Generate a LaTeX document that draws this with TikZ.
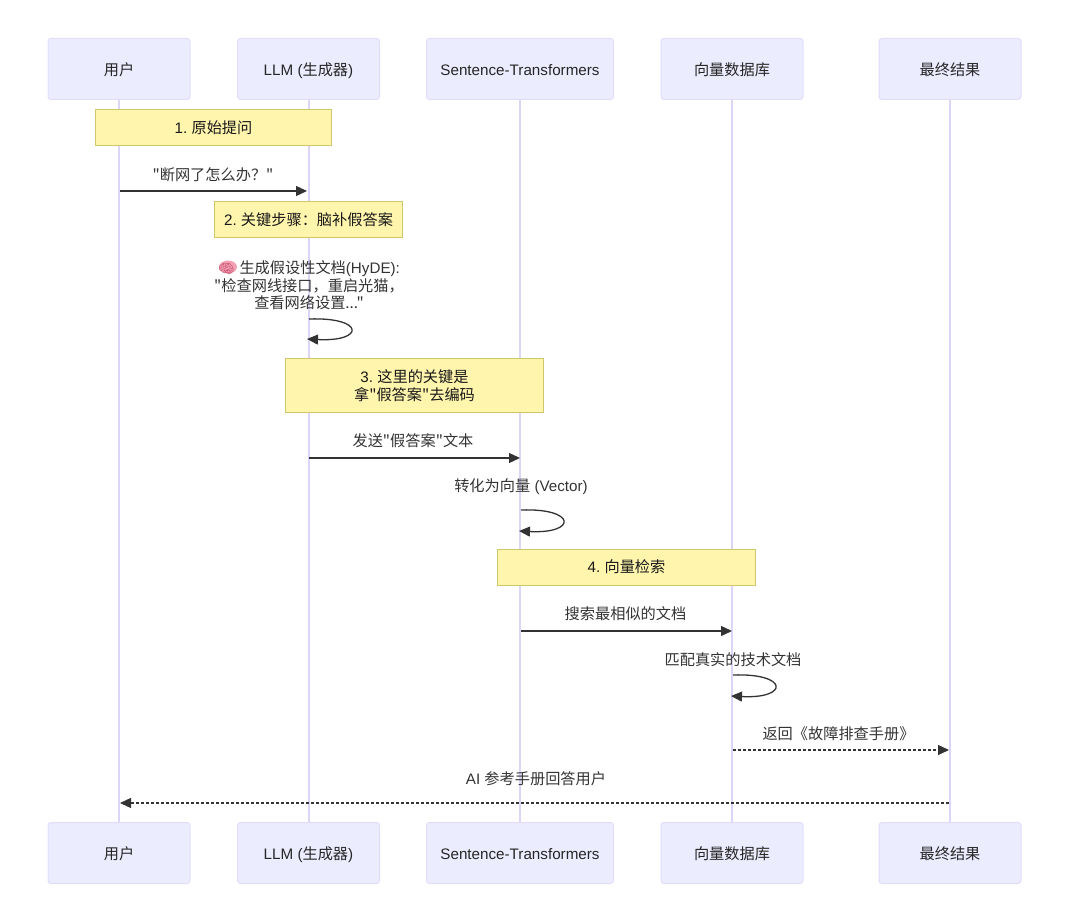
\documentclass[tikz,border=0pt]{standalone}
\usepackage{fontspec}
\setmainfont{Liberation Sans}
\newfontfamily\cjk{Noto Sans CJK SC}
\newfontfamily\emojifont{Noto Emoji}
\usetikzlibrary{arrows.meta}
\definecolor{actorfill}{HTML}{ECECFF}
\definecolor{actorline}{HTML}{E2DCFA}
\definecolor{lifecol}{HTML}{DDD5F8}
\definecolor{notefill}{HTML}{FFF5AD}
\definecolor{noteline}{HTML}{CFC76A}
\definecolor{msgcol}{HTML}{333333}
\definecolor{braincol}{HTML}{C9506E}
\definecolor{brainfill}{HTML}{F2A0B4}
\tikzset{
  actor/.style={draw=actorline, fill=actorfill, line width=1pt, rounded corners=3pt, minimum height=61pt, text=black!85, font=\fontsize{15.2}{17}\selectfont, inner sep=0pt, text height=15pt, text depth=2pt},
  lifeline/.style={draw=lifecol, line width=2pt},
  notebox/.style={draw=noteline, fill=notefill, line width=1pt, text=black!90, font=\fontsize{15.2}{18}\selectfont, align=center, inner sep=0pt},
  msglabel/.style={text=msgcol, font=\fontsize{15.2}{17.5}\selectfont, align=center, inner sep=0pt},
  msg/.style={draw=msgcol, line width=1.3pt, -{Stealth[length=11pt,width=10pt,inset=0pt]}},
  reply/.style={msg, dash pattern=on 2.8pt off 2.2pt},
}
\begin{document}
\frenchspacing
\begin{tikzpicture}[x=1pt,y=-1pt]
\useasboundingbox (0,0) rectangle (1080,920);
% Actors:
\node (userTop) [actor, minimum width=142pt] at (119,69) {{\cjk 用户}};
\node (llmTop) [actor, minimum width=142pt] at (308.5,69) {LLM ({\cjk 生成器})};
\node (stTop) [actor, minimum width=187pt] at (520,69) {Sentence-Transformers};
\node (dbTop) [actor, minimum width=142pt] at (732,69) {{\cjk 向量数据库}};
\node (resTop) [actor, minimum width=142pt] at (950,69) {{\cjk 最终结果}};
\node (userBot) [actor, minimum width=142pt] at (119,853) {{\cjk 用户}};
\node (llmBot) [actor, minimum width=142pt] at (308.5,853) {LLM ({\cjk 生成器})};
\node (stBot) [actor, minimum width=187pt] at (520,853) {Sentence-Transformers};
\node (dbBot) [actor, minimum width=142pt] at (732,853) {{\cjk 向量数据库}};
\node (resBot) [actor, minimum width=142pt] at (950,853) {{\cjk 最终结果}};
% Lifelines:
\draw[lifeline] (userTop) -- (userBot);
\draw[lifeline] (llmTop) -- (llmBot);
\draw[lifeline] (stTop) -- (stBot);
\draw[lifeline] (dbTop) -- (dbBot);
\draw[lifeline] (resTop) -- (resBot);
% Notes:
\node (noteA) [notebox, minimum width=236pt, minimum height=36pt] at (213.5,128) {1. {\cjk 原始提问}};
\node (noteB) [notebox, minimum width=188pt, minimum height=36pt] at (308.5,220) {2. {\cjk 关键步骤：脑补假答案}};
\node (noteC) [notebox, minimum width=258pt, minimum height=54pt] at (414.5,385.5) {3. {\cjk 这里的关键是}\\{\cjk 拿"假答案"去编码}};
\node (noteD) [notebox, minimum width=258pt, minimum height=36pt] at (626.5,567) {4. {\cjk 向量检索}};
% Messages:
\coordinate (askFrom) at (120,191);
\coordinate (askTo) at (307,191);
\coordinate (hydeFrom) at (309,319);
\coordinate (hydeTo) at (307,339);
\coordinate (sendFrom) at (309,458);
\coordinate (sendTo) at (520,458);
\coordinate (vecFrom) at (521,510);
\coordinate (vecTo) at (519,531);
\coordinate (searchFrom) at (521,631);
\coordinate (searchTo) at (732,631);
\coordinate (matchFrom) at (733,675);
\coordinate (matchTo) at (731,696);
\coordinate (backFrom) at (733,750);
\coordinate (backTo) at (949,750);
\coordinate (answerFrom) at (949,803);
\coordinate (answerTo) at (120,803);
\draw[msg] (askFrom) -- (askTo);
\draw[msg] (hydeFrom) .. controls +(56,-2) and +(58,3) .. (hydeTo);
\draw[msg] (sendFrom) -- (sendTo);
\draw[msg] (vecFrom) .. controls +(56,-2) and +(58,3) .. (vecTo);
\draw[msg] (searchFrom) -- (searchTo);
\draw[msg] (matchFrom) .. controls +(56,-2) and +(58,3) .. (matchTo);
\draw[reply] (backFrom) -- (backTo);
\draw[reply] (answerFrom) -- (answerTo);
% Labels:
\fill[brainfill] (228,267) ellipse (9pt and 6.5pt);
\node (askLabel) [msglabel] at (213,175) {{\cjk "断网了怎么办？"}};
\node (hydeLabel) [msglabel] at (309,285.5) {{\fontsize{13}{17.5}\selectfont\emojifont\textcolor{braincol}{\symbol{"1F9E0}}}\hspace{5pt}{\cjk 生成假设性文档}(HyDE):\\{\cjk "检查网线接口，重启光猫，}\\{\cjk 查看网络设置..."}};
\node (sendLabel) [msglabel] at (413,441) {{\cjk 发送"假答案"文本}};
\node (vecLabel) [msglabel] at (521,486.5) {{\cjk 转化为向量} (Vector)};
\node (searchLabel) [msglabel] at (625.5,614) {{\cjk 搜索最相似的文档}};
\node (matchLabel) [msglabel] at (733,660) {{\cjk 匹配真实的技术文档}};
\node (backLabel) [msglabel] at (838.5,734) {{\cjk 返回《故障排查手册》}};
\node (answerLabel) [msglabel] at (536,779) {AI {\cjk 参考手册回答用户}};
\end{tikzpicture}
\end{document}
